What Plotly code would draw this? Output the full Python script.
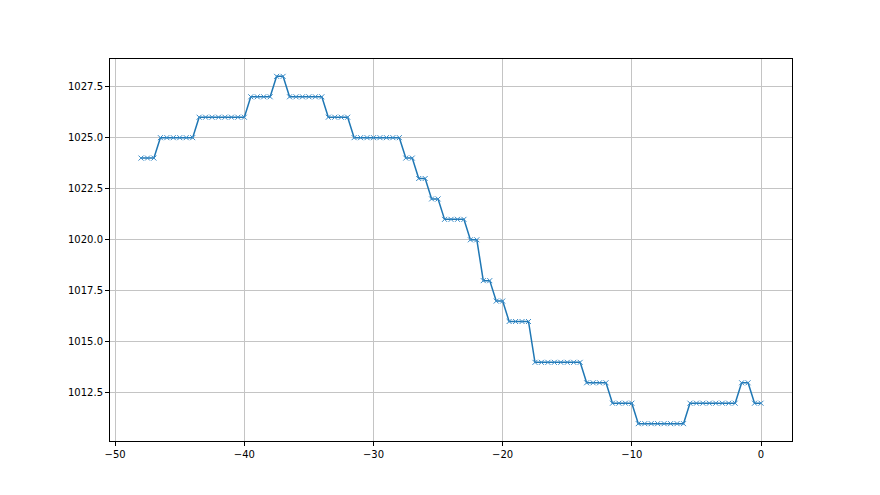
import numpy as np
import plotly.graph_objects as go

# hours relative to now (step 0.5)
hours = [-48 + 0.5 * i for i in range(97)]

# pressure readings (hPa), as runs of equal values
levels = [1024, 1025, 1026, 1027, 1028, 1027, 1026, 1025, 1024, 1023, 1022, 1021,
          1020, 1018, 1017, 1016, 1014, 1013, 1012, 1011, 1012, 1013, 1012]
counts = [3, 6, 8, 4, 2, 6, 4, 8, 2, 2, 2, 4, 2, 2, 2, 4, 8, 4, 4, 8, 8, 2, 2]
pressure = [v for v, c in zip(levels, counts) for _ in range(c)]

x_ticks = [-50, -40, -30, -20, -10, 0]
y_ticks = [1012.5, 1015.0, 1017.5, 1020.0, 1022.5, 1025.0, 1027.5]

fig = go.Figure()
fig.add_trace(go.Scatter(
    x=hours, y=pressure, mode="lines+markers",
    line=dict(color="#1f77b4", width=1.5),
    marker=dict(symbol="x-thin", size=5, line=dict(color="#3a8cc8", width=1)),
    showlegend=False,
))

axis_common = dict(
    showline=True, linecolor="black", linewidth=1, mirror=True,
    ticks="outside", ticklen=4, tickcolor="black", tickwidth=1,
    showgrid=True, gridcolor="#c4c4c4", gridwidth=1, zeroline=False,
    tickfont=dict(family="DejaVu Sans", size=10, color="black"),
)

fig.update_layout(
    width=880, height=495,
    margin=dict(l=102, r=96, t=51, b=62),
    paper_bgcolor="white", plot_bgcolor="white",
    xaxis=dict(range=[-50.4, 2.4], tickvals=x_ticks, **axis_common),
    yaxis=dict(range=[1010.15, 1028.85], tickvals=y_ticks,
               ticktext=[f"{v:.1f}" for v in y_ticks], **axis_common),
)

fig.write_html("out.html")
